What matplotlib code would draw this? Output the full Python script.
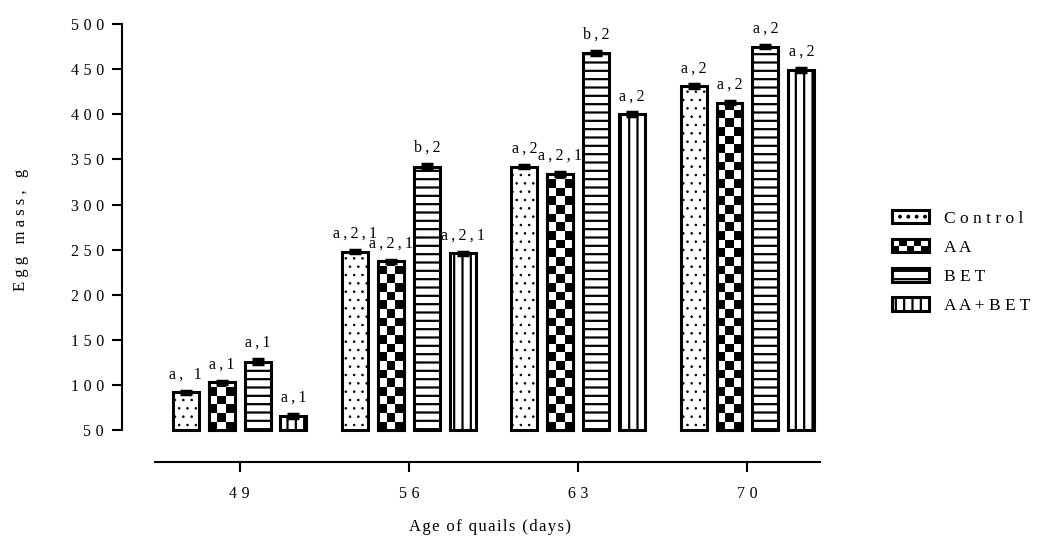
import numpy as np
import matplotlib
matplotlib.use("Agg")
import matplotlib.pyplot as plt
from matplotlib.patches import Rectangle, Patch
from matplotlib.legend_handler import HandlerBase

# --- data ---
ages = ['49', '56', '63', '70']
groups = ['Control', 'AA', 'BET', 'AA+BET']
control = [92, 248, 342, 431]
aa = [103, 237, 334, 413]
bet = [126, 342, 468, 475]
aa_bet = [66, 246, 400, 449]
err_control = [2, 2, 2, 2]
err_aa = [2, 2, 2, 2]
err_bet = [3, 3, 2, 2]
err_aa_bet = [2, 2, 2, 2]
lab_control = ['a, 1', 'a,2,1', 'a,2', 'a,2']
lab_aa = ['a,1', 'a,2,1', 'a,2,1', 'a,2']
lab_bet = ['a,1', 'b,2', 'b,2', 'a,2']
lab_aa_bet = ['a,1', 'a,2,1', 'a,2', 'a,2']
yticks = [50, 100, 150, 200, 250, 300, 350, 400, 450, 500]

plt.rcParams['font.family'] = ['Liberation Serif', 'DejaVu Serif']
plt.rcParams['hatch.linewidth'] = 1.6

THIN = '\u2009'
HAIR = '\u200a'


def spaced(s, sep=' '):
    # wide letter spacing like the original
    return sep.join(s)


series = [control, aa, bet, aa_bet]
errs = [err_control, err_aa, err_bet, err_aa_bet]
labs = [lab_control, lab_aa, lab_bet, lab_aa_bet]
hatches = ['..', None, '--', '||']
hatch_lw = [0.6, 1.6, 1.6, 1.6]

BASE = 50
width = 0.153
step = 0.212
offsets = [-1.5 * step, -0.5 * step, 0.5 * step, 1.5 * step]
x = np.arange(len(ages))

fig = plt.figure(figsize=(10.37, 5.4), dpi=100)
ax = fig.add_axes([0.1176, 0.1444, 0.791 - 0.1176, 0.9556 - 0.1444])

handles = []
for k in range(4):
    xs = x + offsets[k]
    heights = np.array(series[k]) - BASE
    with plt.rc_context({'hatch.linewidth': hatch_lw[k]}):
        bars = ax.bar(xs, heights, width, bottom=BASE, facecolor='white',
                      edgecolor='black', linewidth=2.2, hatch=hatches[k], zorder=2)
        handles.append(Patch(facecolor='white', edgecolor='black', linewidth=2.2,
                             hatch=hatches[k]))
    if groups[k] == 'AA':
        # checkerboard fill clipped to each bar
        for b, top in zip(bars, series[k]):
            sq = 9.6
            xe = np.linspace(b.get_x(), b.get_x() + b.get_width(), 4)
            ye = np.arange(BASE, top + sq, sq)
            cx, cy = np.meshgrid(np.arange(len(xe) - 1), np.arange(len(ye) - 1))
            c = (cx + cy) % 2
            m = ax.pcolormesh(xe, ye, c, cmap='gray', vmin=0, vmax=1, zorder=2.5)
            m.set_clip_path(b)
        ax.bar(xs, heights, width, bottom=BASE, fill=False,
               edgecolor='black', linewidth=2.2, zorder=3)
    ax.errorbar(xs, series[k], yerr=errs[k], fmt='none', ecolor='black',
                elinewidth=2, capsize=4, capthick=2.5, zorder=4)
    for xi, v, e, t in zip(xs, series[k], errs[k], labs[k]):
        ax.text(xi, v + e + 9, spaced(t, THIN), ha='center', va='bottom', fontsize=11.5)

ax.set_xlim(-0.695, 3.43)
ax.set_ylim(14.9, 500)
ax.set_yticks(yticks)
ax.set_yticklabels([spaced(str(v), THIN + HAIR) for v in yticks], fontsize=11.5)
ax.set_xticks(x)
ax.set_xticklabels([spaced(a, THIN + HAIR) for a in ages], fontsize=11.5)
ax.spines['top'].set_visible(False)
ax.spines['right'].set_visible(False)
ax.spines['left'].set_bounds(50, 500)
ax.spines['bottom'].set_bounds(-0.5, 3.43)
ax.spines['left'].set_linewidth(1.5)
ax.spines['bottom'].set_linewidth(1.5)
ax.tick_params(axis='both', length=7, width=1.5, direction='out')
ax.tick_params(axis='x', pad=10)
ax.tick_params(axis='y', pad=6)

fig.text(0.02, (1 - 230 / 540), spaced('Egg mass, g'), rotation=90,
         ha='center', va='center', fontsize=12)
fig.text(490 / 1037, 1 - 527 / 540, spaced('Age of quails (days)', HAIR),
         ha='center', va='center', fontsize=12)


class CheckerHandler(HandlerBase):
    def create_artists(self, legend, orig_handle, xdescent, ydescent,
                       width, height, fontsize, trans):
        arts = []
        nc, nr = 5, 2
        for i in range(nc):
            for j in range(nr):
                if (i + j) % 2 == 0:
                    arts.append(Rectangle((-xdescent + i * width / nc, -ydescent + j * height / nr),
                                          width / nc, height / nr, facecolor='black',
                                          edgecolor='none', transform=trans))
        arts.append(Rectangle((-xdescent, -ydescent), width, height, fill=False,
                              edgecolor='black', linewidth=2.2, transform=trans))
        return arts


leg = fig.legend(handles, [spaced(g) for g in groups], loc='center left',
                 bbox_to_anchor=(0.845, 1 - 262 / 540), frameon=False,
                 fontsize=12.5, handlelength=2.13, handleheight=0.8,
                 labelspacing=0.72, handletextpad=0.9,
                 handler_map={handles[1]: CheckerHandler()})

fig.savefig('out.png', dpi=100)
